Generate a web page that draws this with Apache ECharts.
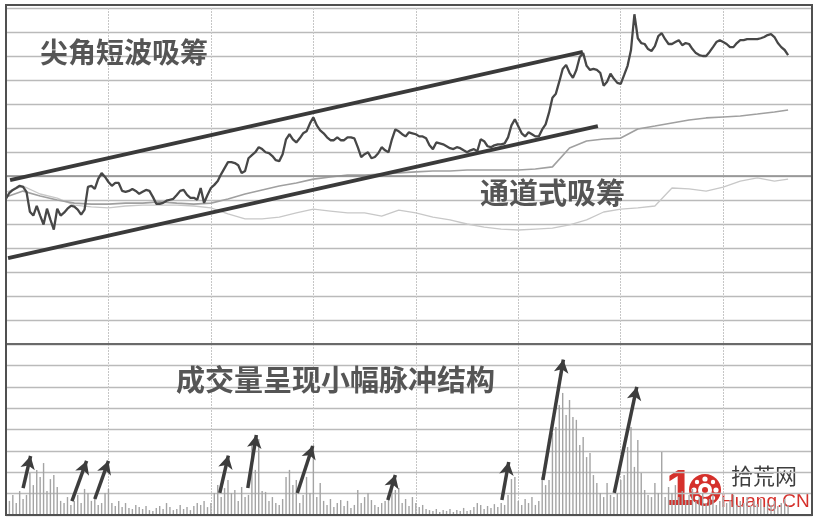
<!DOCTYPE html>
<html><head><meta charset="utf-8">
<script src="https://cdn.jsdelivr.net/npm/echarts@6/dist/echarts.min.js"></script>
<style>html,body{margin:0;padding:0;background:#fff}#c{width:817px;height:520px}</style>
</head><body><div id="c"></div>
<script>
// ---- data (intraday, one value per minute, % change vs previous close) ----
const pricePct = [
 -0.95,-0.70,-0.58,-0.50,-0.41,-0.45,-0.66,-1.49,-1.65,-1.24,
 -1.65,-2.02,-1.36,-1.82,-2.23,-1.36,-1.65,-1.53,-1.36,-1.24,
 -1.28,-1.40,-1.61,-1.40,-0.45,-0.41,-0.54,-0.12,0.12,-0.04,
 -0.25,-0.41,-0.29,-0.29,-0.62,-0.66,-0.62,-0.54,-0.62,-0.74,
 -0.66,-0.58,-0.62,-0.87,-1.16,-1.16,-1.12,-1.03,-0.99,-0.95,
 -0.79,-0.62,-0.58,-0.79,-0.91,-0.91,-0.99,-0.50,-1.12,-0.79,
 -0.50,-0.37,-0.21,0.08,0.33,0.58,0.58,0.54,0.45,0.12,
 0.21,0.74,0.87,0.99,1.20,1.12,0.99,0.95,0.83,0.66,
 0.62,0.91,1.53,1.74,1.53,1.40,1.57,1.78,1.86,2.19,
 2.44,2.11,1.90,1.78,1.61,1.49,1.49,1.61,1.49,1.49,
 1.61,1.61,1.57,1.20,0.79,0.91,0.99,0.74,0.79,0.95,
 1.20,1.07,0.99,1.53,1.94,1.86,1.74,1.65,1.82,1.78,
 1.74,1.65,1.65,1.57,1.28,1.12,1.40,1.36,1.32,1.24,
 1.16,1.12,1.20,1.16,1.07,0.99,1.07,1.12,1.03,1.53,
 1.45,1.24,1.20,1.28,1.32,1.32,1.36,1.61,2.11,2.36,
 2.07,1.78,1.65,1.82,1.74,1.65,1.65,1.94,2.15,2.64,
 3.26,3.43,3.93,4.46,4.63,4.30,4.09,4.42,4.96,5.12,
 4.59,4.42,4.46,4.42,4.30,3.76,3.93,4.26,4.05,3.88,
 3.84,4.21,4.59,5.25,6.74,5.74,5.54,5.50,5.29,5.21,
 5.41,5.83,5.95,5.70,5.50,5.50,5.58,5.66,5.45,5.54,
 5.50,5.29,5.12,5.04,5.00,5.00,5.17,5.37,5.58,5.66,
 5.58,5.50,5.37,5.37,5.54,5.66,5.66,5.70,5.70,5.70,
 5.70,5.74,5.79,5.87,5.91,5.79,5.54,5.37,5.25,5.04
];
const volume = [
 140,66,94,56,112,75,94,197,140,211, 178,243,112,168,187,131,66,56,84,47,
 66,94,56,122,103,66,84,47,56,103, 122,56,42,66,37,56,33,28,47,37,
 28,42,23,19,33,42,28,56,37,23, 28,47,28,37,23,42,56,47,66,37,
 56,103,140,84,126,164,103,117,66,131, 84,94,328,211,356,112,108,66,84,56,
 47,75,178,211,140,164,56,94,178,103, 328,84,150,66,47,75,37,56,70,42,
 66,33,47,117,56,84,103,70,47,37, 56,66,94,131,117,126,56,75,42,84,
 56,37,47,28,23,19,28,14,23,19, 28,14,23,19,33,19,23,37,56,47,
 28,42,33,51,37,56,47,94,168,178, 66,47,75,56,84,47,66,178,140,164,
 384,412,515,571,468,538,459,445,328,365, 271,290,187,150,103,84,150,94,84,103,
 164,187,318,412,225,351,197,117,94,84, 150,103,295,84,131,103,140,84,112,70,
 94,122,66,84,103,56,75,94,47,66, 84,56,70,94,47,66,56,84,42,66,
 51,75,37,56,47,66,42,56,75,47
];
// slower reference lines, sampled every 5 minutes
const refMinutes = [0,5,10,15,20,25,30,35,40,45,50,55,60,65,70,75,80,85,90,95,100,105,110,115,120,125,130,135,140,145,150,155,160,165,170,175,180,185,190,195,200,205,210,215,220,225,229];
const avgPct = [
 -0.88,-0.63,-0.83,-1.00,-1.13,-1.17,-1.17,-1.13,-1.13,-1.08,
 -1.13,-1.17,-1.13,-0.96,-0.75,-0.58,-0.42,-0.29,-0.13,-0.04,
 0.04,0.04,0.08,0.13,0.17,0.21,0.21,0.25,0.25,0.25,
 0.25,0.29,0.38,1.17,1.46,1.54,1.58,1.96,2.08,2.21,
 2.33,2.42,2.46,2.50,2.58,2.67,2.75
];
const lowerPct = [
 -0.67,-0.42,-0.75,-0.92,-1.21,-1.29,-1.33,-1.25,-1.21,-1.21,
 -1.21,-1.25,-1.33,-1.58,-1.79,-1.79,-1.71,-1.54,-1.38,-1.46,
 -1.54,-1.54,-1.67,-1.42,-1.54,-1.71,-1.83,-2.00,-2.13,-2.21,
 -2.25,-2.21,-2.17,-2.04,-1.83,-1.50,-1.38,-1.33,-1.25,-0.50,
 -0.54,-0.63,-0.46,-0.21,-0.08,-0.21,-0.13
];
// annotation trend lines [minute, pct]
const channelUpper = [[1.2,-0.17],[168.9,5.17]];
const channelLower = [[0.6,-3.42],[173.3,2.08]];
// volume arrows [minute, volume] tail -> head
const volArrows = [
 [[5.0,126],[7.2,276]], [[19.3,65],[23.6,253]], [[26.0,75],[30.0,253]],
 [[62.6,103],[65.1,278]], [[70.8,126],[73.3,374]], [[85.3,103],[89.8,323]],
 [[111.8,70],[114.0,187]], [[145.2,70],[147.2,248]], [[157.2,164],[163.2,727]],
 [[178.1,103],[184.7,599]]
];
const labels = ['尖角短波吸筹','通道式吸筹','成交量呈现小幅脉冲结构'];

const chart = echarts.init(document.getElementById('c'), null, {renderer:'canvas'});
const hideAxis = {axisTick:{show:false}, axisLabel:{show:false}};
const xCommon = Object.assign({type:'value', min:0, max:236, interval:30,
  splitLine:{show:true, lineStyle:{color:'#c6c6c6', width:1, type:[2,1]}}}, hideAxis);
const cjk = '"Noto Sans CJK SC"';
const red = '#d5302b';
chart.setOption({
  animation:false,
  backgroundColor:'#ffffff',
  grid:[{left:6, top:8, width:806, height:336},{left:6, top:344, width:806, height:171}],
  xAxis:[
    Object.assign({}, xCommon, {gridIndex:0, axisLine:{show:true, onZero:false, lineStyle:{color:'#6a6a6a', width:2}}}),
    Object.assign({}, xCommon, {gridIndex:1, axisLine:{show:true, onZero:false, lineStyle:{color:'#555', width:2}}})
  ],
  yAxis:[
    Object.assign({gridIndex:0, type:'value', min:-7, max:7, interval:1,
      axisLine:{show:true, lineStyle:{color:'#444', width:2}},
      splitLine:{show:true, lineStyle:{color:'#bababa', width:1.3}}}, hideAxis),
    Object.assign({gridIndex:1, type:'value', min:0, max:800, interval:100,
      axisLine:{show:true, lineStyle:{color:'#444', width:2}},
      splitLine:{show:true, lineStyle:{color:'#bababa', width:1.3}}}, hideAxis)
  ],
  series:[
    {type:'line', xAxisIndex:0, yAxisIndex:0, data:refMinutes.map((t,i)=>[t,lowerPct[i]]),
     showSymbol:false, silent:true, lineStyle:{color:'#c8c8c8', width:1.3}, z:2},
    {type:'line', xAxisIndex:0, yAxisIndex:0, data:refMinutes.map((t,i)=>[t,avgPct[i]]),
     showSymbol:false, silent:true, lineStyle:{color:'#a0a0a0', width:1.6}, z:3},
    {type:'line', xAxisIndex:0, yAxisIndex:0, data:pricePct.map((v,i)=>[i,v]),
     showSymbol:false, silent:true, lineStyle:{color:'#474747', width:2.3}, z:5,
     markLine:{silent:true, symbol:['none','none'], label:{show:false},
       data:[
         [{yAxis:0, x:6, lineStyle:{color:'#8c8c8c', width:1.6, type:'solid'}}, {yAxis:0, x:812}],
         [{coord:channelUpper[0], lineStyle:{color:'#3a3a3a', width:4, type:'solid'}}, {coord:channelUpper[1]}],
         [{coord:channelLower[0], lineStyle:{color:'#3a3a3a', width:4, type:'solid'}}, {coord:channelLower[1]}]
       ]}},
    {type:'bar', xAxisIndex:1, yAxisIndex:1, data:volume.map((v,i)=>[i,v]),
     barWidth:1.4, silent:true, itemStyle:{color:'#a4a4a4'}, z:2,
     markLine:{silent:true, symbol:['none','arrow'], symbolSize:[11,13], label:{show:false},
       lineStyle:{color:'#3d3d3d', width:3.5, type:'solid'},
       data: volArrows.map(a=>[{coord:a[0]},{coord:a[1]}])}}
  ],
  graphic:[
    {type:'rect', shape:{x:6, y:5, width:806, height:510}, style:{fill:'none', stroke:'#505050', lineWidth:2}, silent:true, z:10},
    {type:'text', x:40, y:38, style:{text:labels[0], font:'bold 28px '+cjk, fill:'#555555'}, z:20},
    {type:'text', x:480, y:178, style:{text:labels[1], font:'bold 29px '+cjk, fill:'#555555'}, z:20},
    {type:'text', x:176, y:365, style:{text:labels[2], font:'bold 29px '+cjk, fill:'#555555'}, z:20},
    // watermark logo
    {type:'group', z:30, children:[
      {type:'circle', shape:{cx:705, cy:490, r:16}, style:{fill:red}},
      {type:'circle', shape:{cx:705, cy:490, r:7}, style:{fill:'#fff'}},
      {type:'circle', shape:{cx:705, cy:479, r:2.6}, style:{fill:'#fff'}},
      {type:'circle', shape:{cx:705, cy:501, r:2.6}, style:{fill:'#fff'}},
      {type:'circle', shape:{cx:694, cy:490, r:2.6}, style:{fill:'#fff'}},
      {type:'circle', shape:{cx:716, cy:490, r:2.6}, style:{fill:'#fff'}},
      {type:'circle', shape:{cx:697, cy:482, r:2.2}, style:{fill:'#fff'}},
      {type:'circle', shape:{cx:713, cy:482, r:2.2}, style:{fill:'#fff'}},
      {type:'circle', shape:{cx:697, cy:498, r:2.2}, style:{fill:'#fff'}},
      {type:'circle', shape:{cx:713, cy:498, r:2.2}, style:{fill:'#fff'}},
      {type:'circle', shape:{cx:705, cy:490, r:3}, style:{fill:red}},
      {type:'text', x:680, y:491, style:{text:'1', font:'bold 50px "Liberation Sans"', fill:red, align:'center', verticalAlign:'middle'}},
      {type:'text', x:731, y:465, style:{text:'拾荒网', font:'22px '+cjk, fill:'#3e3e3e'}},
      {type:'text', x:721, y:492, style:{text:'Huang.CN', font:'19px "Liberation Sans"', fill:red}}
    ]}
  ]
});
</script></body></html>
